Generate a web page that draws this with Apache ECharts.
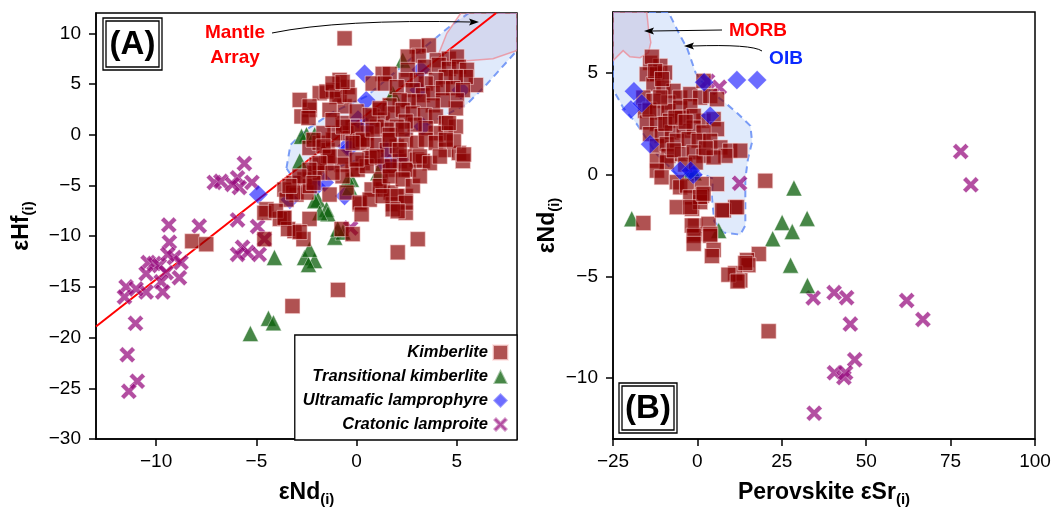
<!DOCTYPE html>
<html><head><meta charset="utf-8">
<script src="https://cdn.jsdelivr.net/npm/echarts@6/dist/echarts.min.js"></script>
<style>html,body{margin:0;padding:0;background:#fff}#c{width:1060px;height:512px}</style>
</head><body><div id="c"></div>
<script>
// ---------- Panel A : εNd(i) vs εHf(i) ----------
const kimberliteA = [
[-0.6,9.5],[3.0,8.7],[3.6,8.8],[3.1,7.8],[2.55,7.7],[4.0,7.35],[4.6,7.5],[5.0,7.7],[2.55,6.4],[3.4,6.7],[4.1,6.9],[4.6,6.5],[5.1,6.7],[5.5,6.4],[5.95,4.9],[5.45,5.7],[4.95,5.7],[4.45,5.7],[3.95,5.4],[3.45,5.05],[3.0,5.4],[2.45,5.4],[1.3,6.0],[1.65,6.0],[0.8,5.05],[1.4,5.05],[2.0,4.7],[2.8,4.4],[3.3,3.9],[3.8,4.1],[4.3,4.6],[4.8,4.6],[5.3,4.4],[5.0,3.4],[4.95,2.6],[4.3,3.4],[3.8,2.9],[3.1,3.3],[2.6,3.3],[2.15,3.4],[1.65,2.9],[1.15,2.45],[0.8,1.8],[1.3,1.5],[1.8,2.1],[2.3,2.45],[2.8,2.1],[3.4,1.95],[3.95,1.8],[4.45,1.15],[4.95,0.8],[4.45,0.15],[3.95,0.15],[3.45,0.65],[2.9,1.0],[2.45,1.3],[2.0,0.8],[1.5,0.5],[1.0,0.8],[0.5,0.15],[-0.2,0.8],[-0.5,0.15],[-0.7,1.15],[-0.6,2.8],[-0.85,3.9],[-0.45,4.7],[-0.85,5.4],[0,-0.8],[0.5,-0.8],[1.0,-1.0],[1.5,-1.5],[2.0,-1.15],[2.45,-0.5],[3.0,-0.8],[3.45,-0.5],[3.95,-0.8],[4.45,-1.5],[5.1,-1.8],[5.3,-2.6],[4.85,-0.65],[2.15,-2.6],[2.45,-2.15],[3.0,-2.45],[3.3,-2.6],[0.8,-2.15],[0.3,-2.8],[1.3,-3.1],[1.8,-3.45],[2.6,-3.45],[-0.2,-3.45],[-0.6,-2.15],
[-2.35,-1.3],[-1.85,-0.8],[-1.45,-1.5],[-2.0,-2.95],[-2.1,-3.75],[-2.6,-4.4],[-3.15,-4.75],[-3.6,-5.4],[-3.0,-5.9],[-2.5,-5.7],[-3.5,-6.4],[-4.5,-7.35],[-3.65,-8.2],[-3.1,-9.5],[-2.65,-10.3],[-2.35,-8.3],[-1.35,-5.9],[-0.75,-2.95],[-0.7,-4.1],[0.05,-3.45],[0.15,-6.85],[0.75,-5.4],[1.3,-5.4],[1.2,-4.4],[1.7,-5.7],[1.8,-6.85],[2.45,-6.05],[2.45,-7.7],[2.05,-11.6],[3.05,-10.3],[-0.75,-9.3],[-0.2,-9.8],[-1.1,0.15],[0,0.5],[0.15,-0.65],[1.65,0],[0.65,-2.3],[1.65,-3.1],[2.45,-3.45],[-1.5,-2.8],[-4.6,-7.7],
[-3.83,-8.3],[-3.42,-9.3],[-2.84,-9.6],[-3.17,-5.7],[-2.34,-5.07],[-1.84,-3.75],[-1.43,-2.1],[-1.18,-0.49],[-0.68,0.8],[-2.34,2.45],[-2.84,3.43],[-2.75,1.8],[-1.84,4.09],[-1.18,4.4],
[-8.2,-10.5],[-7.5,-10.8],[-4.6,-10.3],[-4.03,-7.5],[-3.6,-8.2],[-3.2,-16.9],[-0.93,-15.3],
[-2.35,2.8],[-2.4,1.65],[-1.5,4.25],[-1.0,3.75],[-0.35,3.9],[-1.35,2.45],[-1.2,5.05],[-0.7,5.2],[0,2.3],[0.65,1.95],[1.15,2.6],[-1.65,0.15],[-2.15,-0.5],[-1.65,-1.15],[-1.35,-2.15],[-1.85,-2.8],[-2.35,-3.45],[-2.85,-4.1],[-3.35,-5.05],[-2.15,-4.75],[-1.2,-3.75],[-0.5,-5.7],[0.15,-6.7],[0.65,-6.4],[1.15,-5.05],[1.65,-4.1],[2.3,-4.4],[2.8,-5.05],[2.0,-6.05],[2.45,-6.7],[1.8,-7.35],[1.3,-6.05],[0.5,-3.1],[0,-2.45],[1.0,-2.15],[1.65,-0.5],[2.15,-1.5],[2.3,0.5],[0.3,-0.5],[-0.2,-0.8],[3.15,-2.15],[3.65,-2.8],[4.15,-2.15],[3.15,-4.1],[5.35,-1.95],[4.45,-0.5],[4.6,1.15],[-1.2,1.45],[0.8,0.5],[0.25,-7.85],[2.05,-7.55]
];
const transitionalA = [
[-4.1,-12.1],[-4.4,-18.1],[-4.15,-18.55],[-5.3,-19.6],[-2.6,-12.1],[-2.1,-12.4],[-2.4,-12.8],[-2.35,-11.3],
[-2.84,-2.6],[-2.5,0],[-0.26,-4.4],[1.06,-3.75],[-1.93,-6.4],[-1.5,-7.35],[-1.43,-7.8],[-1.09,-10.1],[-0.68,-9.6],
[-0.35,-5.2],[-2.09,0],[-2.75,-0.16],[-2.09,-6.5],[-1.84,-7.7],[-0.43,-4.4],[2.3,7.35],[1.8,4.1],[-0.94,-9.3]
];
const lamprophyreA = [
[0.4,6.0],[3.2,6.4],[3.1,4.4],[5.2,4.4],[-0.5,-1.15],[0.07,1.5],[3.3,0.8],[1.48,-1.5],[1.3,-2.8],[-4.9,-5.9],[-2.0,-5.1],[-0.6,-6.05],[-3.33,-6.4],[0.48,3.4],[2.14,-2.45],[-1.6,-4.7],[-0.35,-1.3],[0.48,0.8],[1.64,-2.8]
];
const lamproiteA = [
[-5.6,-2.84],[-7.1,-4.7],[-6.77,-4.6],[-5.94,-4.25],[-5.85,-5.2],[-5.22,-4.7],[-6.2,-4.9],[-9.37,-8.9],[-7.85,-9.0],[-9.34,-10.6],[-5.94,-8.4],[-4.94,-9.05],[-5.69,-11.1],[-5.44,-11.6],[-5.94,-11.8],[-4.86,-11.8],[-10.4,-12.6],[-10.1,-12.7],[-9.84,-12.9],[-9.09,-12.1],[-9.42,-11.8],[-8.76,-12.6],[-10.5,-13.7],[-9.5,-13.6],[-8.84,-14.1],[-9.75,-14.5],[-9.67,-15.5],[-10.5,-15.5],[-11.5,-15.0],[-11.58,-16.0],[-11.0,-15.2],[-11.03,-18.6],[-11.44,-21.7],[-10.94,-24.3],[-11.36,-25.3],[-4.6,-10.3],[-0.3,-9.2],[-0.7,-9.7]
];
const mantleArray = [[-13,-18.9],[6.96,12]];
const oibFieldA = [[-3.5,-3.3],[-3.3,-1.0],[-2.5,0.5],[-1.2,2.2],[0.5,3.8],[2.0,6.3],[3.0,8.0],[4.6,10.6],[5.6,12],[8,12],[8,8.3],[6.5,5.0],[5.5,3.0],[4.0,1.5],[2.0,-0.5],[0,-2.5],[-2,-4.0],[-3.2,-4.2]];
const morbFieldA = [[5.2,12],[4.5,10],[4.1,8.0],[4.6,7.3],[5.5,7.3],[6.8,7.5],[8,8.3],[8,12]];
const xTicksA = [-10,-5,0,5];
const yTicksA = [-30,-25,-20,-15,-10,-5,0,5,10];

// ---------- Panel B : Perovskite εSr(i) vs εNd(i) ----------
const kimberliteB = [
[-14.0,5.5],[-11.0,5.35],[-15.0,4.94],[-12.0,4.94],[-9.6,5.02],[-13.0,4.45],[-10.1,4.28],[-7.1,4.12],[-16.0,3.79],[-13.0,3.63],[-8.6,3.55],[-5.1,3.79],[-2.1,3.96],[0.8,3.79],[3.8,3.87],[5.8,3.71],[1.8,4.61],[-15.5,3.14],[-12.0,3.06],[-8.6,3.14],[-5.1,3.3],[-2.1,3.38],[1.8,2.65],[4.8,2.73],[5.8,2.24],[-15.0,2.57],[-12.0,2.49],[-8.1,2.65],[-4.6,2.81],[-1.1,2.89],[-14.0,2.0],[-10.6,1.91],[-7.6,2.08],[-4.1,2.16],[-1.1,2.32],[1.8,2.08],[-12.0,1.42],[-9.1,1.5],[-6.1,1.67],[-2.6,1.75],[0.35,1.67],[3.8,1.67],[6.8,1.34],[9.7,1.18],[12.7,1.18],[8.3,0.93],[-8.6,0.93],[-4.6,1.01],[-1.1,1.1],[1.8,0.93],[4.8,0.85],[-12.0,0.69],[-9.1,0.61],[-12.0,0.2],[-10.6,-0.13],[-6.1,-0.37],[-5.1,-0.62],[-3.1,-0.54],[1.3,-0.46],[-2.1,-1.11],[1.3,-1.03],[-6.1,-1.6],[-1.6,-1.68],[0.8,-1.35],[5.8,-0.46],[11.2,-1.6],[7.8,-1.76],[-16.0,-2.38],[-0.65,-2.5],[-0.65,-2.91],[3.3,-2.42],[3.8,-2.91],[20.1,-0.3],[7.3,-1.75],[11.7,-1.6],[18.2,-3.9],[14.7,-4.2],[15.1,-4.45],[11.2,-4.85],[12.7,-5.2],[-1.65,-2.5],[-1.1,-3.0],[-1.1,-3.4],[3.8,-3.0],[4.8,-3.7],[0.8,-1.1],[-2.1,-1.6],[1.8,-0.94],[21.1,-7.7],[9.2,-4.92],[11.9,-5.25],[14.2,-4.35],[4.3,-4.0],
[-13.5,5.8],[-12.5,5.1],[-10.5,4.7],[-14.2,3.2],[-11,3.8],[-9.5,2.5],[-6.5,2.8],[-3.5,2.6],[-7,1.2],[-3.6,0.5],[-0.5,0.6],[2.5,1.3]
];
const transitionalB = [[-19.45,-2.17],[6.3,-2.75],[28.6,-0.65],[25.1,-2.35],[32.5,-2.15],[28.1,-2.8],[22.3,-3.15],[27.6,-4.45],[32.6,-5.45],[-2.5,0.15],[-1.0,0.1]];
const lamprophyreB = [[11.7,4.65],[17.7,4.65],[-18.8,4.1],[-19.7,3.2],[-14.0,1.5],[2.0,4.55],[3.8,2.9],[-1.2,0.0],[-5.1,0.2],[-16.5,3.5],[-2,0.2]];
const lamproiteB = [[78.0,1.14],[81.0,-0.5],[12.5,-0.42],[34.3,-6.06],[40.5,-5.8],[44.2,-6.05],[45.3,-7.35],[46.6,-9.1],[40.6,-9.74],[43.4,-9.98],[43.9,-9.74],[34.6,-11.73],[62.0,-6.19],[66.8,-7.12],[3.0,4.6],[6.5,4.3]];
const oibFieldB = [[-25,8],[-8.6,8],[-5,6.8],[-3,6.2],[-0.5,5.0],[3,4.2],[7.8,3.6],[12,3.0],[15.7,2.4],[16.2,1.6],[15,0.8],[14.2,-0.2],[14.2,-1.5],[14.2,-2.5],[12.7,-2.95],[7.8,-2.85],[5,-2.3],[4.3,-1.1],[4.6,-0.2],[2,0.0],[-2,-0.1],[-6,0],[-12,1],[-18,2.5],[-22,3.3],[-25,4.2]];
const morbFieldB = [[-25,8],[-15,8],[-14.5,7.2],[-13.8,6.5],[-14.5,6.0],[-17,5.75],[-20,5.8],[-22,6.1],[-25,5.6]];
const xTicksB = [-25,0,25,50,75,100];
const yTicksB = [-10,-5,0,5];

const seriesNames = ['Kimberlite','Transitional kimberlite','Ultramafic lamprophyre','Cratonic lamproite'];

// ---------- styling ----------
const FONT = 'Liberation Sans, Arial, Helvetica, sans-serif';
const X_PATH = 'path://M0,4 L4,0 L10,6 L16,0 L20,4 L14,10 L20,16 L16,20 L10,14 L4,20 L0,16 L6,10 Z';
const styles = {
  'Kimberlite': {symbol:'rect', size:15, color:'rgba(139,0,0,0.68)', border:'rgba(255,225,225,0.7)'},
  'Transitional kimberlite': {symbol:'triangle', size:16, color:'rgba(10,95,10,0.75)', border:'rgba(255,255,255,0.5)'},
  'Ultramafic lamprophyre': {symbol:'diamond', size:19, color:'rgba(10,10,255,0.6)', border:'rgba(255,255,255,0.3)'},
  'Cratonic lamproite': {symbol:X_PATH, size:16, color:'rgba(150,10,125,0.72)', border:'rgba(255,255,255,0.4)'}
};
function scatter(name, data, idx, z) {
  const s = styles[name];
  return {type:'scatter', name, data, xAxisIndex:idx, yAxisIndex:idx, symbol:s.symbol, symbolSize:s.size,
    itemStyle:{color:s.color, borderColor:s.border, borderWidth:0.8, opacity:1}, z, silent:true, clip:true};
}
function field(poly, idx, fill, stroke, dashed, z) {
  return {type:'custom', xAxisIndex:idx, yAxisIndex:idx, data:[poly[0]], z, silent:true, clip:true,
    renderItem:(params, api) => ({type:'polygon', shape:{points:poly.map(p => api.coord(p))},
      style:{fill, stroke, lineWidth:dashed?2:1.5, lineDash:dashed?[7,5]:null}})};
}
const minus = v => String(v).replace('-', '\u2212');
function axis(gridIndex, min, max, ticks, name, gap, isY) {
  return {type:'value', gridIndex, min, max,
    axisLine:{show:true, onZero:false, lineStyle:{color:'#000', width:1.5}},
    axisTick:{show:true, length:7, customValues:ticks, lineStyle:{color:'#000', width:1.5}},
    axisLabel:{customValues:ticks, formatter:minus, color:'#000', fontSize:19, fontFamily:FONT, margin:isY?15:13},
    splitLine:{show:false},
    name, nameLocation:'middle', nameGap:gap,
    nameTextStyle:{fontFamily:FONT, color:'#000', rich:{
      a:{fontSize:23, fontWeight:'bold', fontFamily:FONT, color:'#000', lineHeight:28},
      s:{fontSize:15, fontWeight:'bold', fontFamily:FONT, color:'#000', lineHeight:9, verticalAlign:'bottom'}}}
  };
}

const series = [
  field(oibFieldA, 0, 'rgba(100,149,237,0.2)', 'rgba(100,140,245,0.85)', true, 1),
  field(morbFieldA, 0, 'rgba(160,140,190,0.18)', 'rgba(240,130,140,0.7)', false, 1),
  field(oibFieldB, 1, 'rgba(100,149,237,0.2)', 'rgba(100,140,245,0.85)', true, 1),
  field(morbFieldB, 1, 'rgba(150,120,170,0.18)', 'rgba(240,130,140,0.7)', false, 1),
  {type:'line', data:mantleArray, xAxisIndex:0, yAxisIndex:0, symbol:'none', silent:true, z:2,
    lineStyle:{color:'#f00', width:2}},
  scatter('Cratonic lamproite', lamproiteA, 0, 3),
  scatter('Ultramafic lamprophyre', lamprophyreA, 0, 3),
  scatter('Transitional kimberlite', transitionalA, 0, 3),
  scatter('Kimberlite', kimberliteA, 0, 4),
  scatter('Cratonic lamproite', lamproiteB, 1, 3),
  scatter('Transitional kimberlite', transitionalB, 1, 3),
  scatter('Kimberlite', kimberliteB, 1, 4),
  scatter('Ultramafic lamprophyre', lamprophyreB, 1, 5)
];

function labelBox(x, y, w, h, txt) {
  return {type:'group', z:100, children:[
    {type:'rect', shape:{x, y, width:w, height:h}, style:{fill:'#fff', stroke:'#000', lineWidth:1.3}},
    {type:'rect', shape:{x:x+3, y:y+3, width:w-6, height:h-6}, style:{fill:'none', stroke:'#000', lineWidth:1.3}},
    {type:'text', x:x+w/2, y:y+h/2+1, style:{text:txt, font:'bold 33px '+FONT, fill:'#000', align:'center', verticalAlign:'middle'}}
  ]};
}

const graphic = [
  labelBox(103, 18, 59, 52, '(A)'),
  labelBox(619, 383, 58, 50, '(B)'),
  {type:'text', x:235, y:45, z:100, style:{text:'Mantle\nArray', font:'bold 19px '+FONT, fill:'#f00', align:'center', verticalAlign:'middle', lineHeight:25}},
  {type:'bezierCurve', z:100, shape:{x1:272, y1:33, cpx1:340, cpy1:19, x2:471, y2:22}, style:{stroke:'#000', lineWidth:1, fill:'none'}},
  {type:'polygon', z:100, shape:{points:[[479,22],[469,18.5],[471,22],[469,25.5]]}, style:{fill:'#000'}},
  {type:'text', x:758, y:31, z:100, style:{text:'MORB', font:'bold 19px '+FONT, fill:'#f00', align:'center', verticalAlign:'middle'}},
  {type:'text', x:786, y:59, z:100, style:{text:'OIB', font:'bold 19px '+FONT, fill:'#0a2aff', align:'center', verticalAlign:'middle'}},
  {type:'line', z:100, shape:{x1:722, y1:30, x2:652, y2:31}, style:{stroke:'#000', lineWidth:1}},
  {type:'polygon', z:100, shape:{points:[[644,31],[654,27.5],[652,31],[654,34.5]]}, style:{fill:'#000'}},
  {type:'bezierCurve', z:100, shape:{x1:762, y1:51, cpx1:752, cpy1:44, x2:692, y2:46}, style:{stroke:'#000', lineWidth:1, fill:'none'}},
  {type:'polygon', z:100, shape:{points:[[684,46],[694,42.5],[692,46],[694,49.5]]}, style:{fill:'#000'}}
];

const chart = echarts.init(document.getElementById('c'));
chart.setOption({
  animation:false,
  backgroundColor:'#fff',
  textStyle:{fontFamily:FONT},
  grid:[
    {left:96, top:13, width:421, height:427, show:true, borderColor:'#000', borderWidth:1.5, backgroundColor:'transparent'},
    {left:613, top:12, width:422, height:427, show:true, borderColor:'#000', borderWidth:1.5, backgroundColor:'transparent'}
  ],
  xAxis:[
    axis(0, -13, 8, xTicksA, '{a|εNd}{s|(i)}', 40, false),
    axis(1, -25, 100, xTicksB, '{a|Perovskite εSr}{s|(i)}', 40, false)
  ],
  yAxis:[
    axis(0, -30, 12, yTicksA, '{a|εHf}{s|(i)}', 60, true),
    axis(1, -13, 8, yTicksB, '{a|εNd}{s|(i)}', 50, true)
  ],
  legend:{data:seriesNames, orient:'vertical', align:'right', right:543, bottom:72,
    backgroundColor:'#fff', borderColor:'#000', borderWidth:1.3, borderRadius:0,
    padding:[9,8,7,8], itemGap:7, itemWidth:15, itemHeight:15,
    textStyle:{fontFamily:FONT, fontSize:16.5, fontStyle:'italic', fontWeight:'bold', color:'#000'}, z:50},
  series,
  graphic
});
</script></body></html>
